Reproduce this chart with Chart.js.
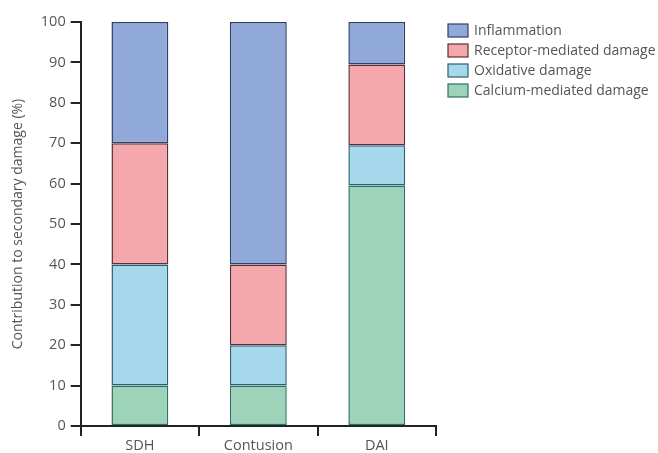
<!DOCTYPE html>
<html>
<head>
<meta charset="utf-8">
<script src="https://cdn.jsdelivr.net/npm/chart.js@4/dist/chart.umd.min.js"></script>
<style>
html,body{margin:0;padding:0;background:#fff;}
#wrap{width:658px;height:453px;position:relative;}
</style>
</head>
<body>
<div id="wrap"><canvas id="c"></canvas></div>
<script>
const categories = ["SDH", "Contusion", "DAI"];
const calcium = [10, 10, 59.5];
const oxidative = [30, 10, 10];
const receptor = [30, 20, 20];
const inflammation = [30, 60, 10.5];
const yTicks = [0,10,20,30,40,50,60,70,80,90,100];

const textColor = '#555555';
const fontFam = '"Open Sans", Lato, sans-serif';

const sideLegend = {
  id: 'sideLegend',
  afterDraw(chart) {
    const ctx = chart.ctx;
    const ds = chart.data.datasets.slice().reverse();
    const x0 = chart.chartArea.right + 12;
    const y0 = 30.5;
    const step = 20;
    ctx.save();
    ctx.font = '14px ' + fontFam;
    ctx.textBaseline = 'middle';
    ctx.textAlign = 'left';
    ds.forEach((d, i) => {
      const y = y0 + i * step;
      ctx.fillStyle = d.backgroundColor;
      ctx.fillRect(x0, y - 6.5, 20, 13);
      ctx.strokeStyle = d.borderColor;
      ctx.lineWidth = 1.2;
      ctx.strokeRect(x0, y - 6.5, 20, 13);
      ctx.fillStyle = textColor;
      ctx.fillText(d.label, x0 + 26, y + 0.5);
    });
    ctx.restore();
  }
};

new Chart(document.getElementById('c'), {
  type: 'bar',
  data: {
    labels: categories,
    datasets: [
      {label:'Calcium-mediated damage', data: calcium, backgroundColor:'#9dd4b9', borderColor:'#2f6f66', borderWidth:1.5, borderSkipped:false},
      {label:'Oxidative damage', data: oxidative, backgroundColor:'#a4d8ea', borderColor:'#2e5f70', borderWidth:1.5, borderSkipped:false},
      {label:'Receptor-mediated damage', data: receptor, backgroundColor:'#f4a8ab', borderColor:'#5a2e3a', borderWidth:1.5, borderSkipped:false},
      {label:'Inflammation', data: inflammation, backgroundColor:'#90a9d8', borderColor:'#2f3f66', borderWidth:1.5, borderSkipped:false}
    ]
  },
  plugins: [sideLegend],
  options: {
    responsive: true,
    maintainAspectRatio: false,
    animation: false,
    layout: {padding: {top: 22, right: 222, bottom: 0, left: 10}},
    datasets: {bar: {categoryPercentage: 1, barPercentage: 0.48}},
    plugins: {
      legend: {display: false},
      tooltip: {enabled: false}
    },
    scales: {
      x: {
        stacked: true,
        afterFit: (scale) => { scale.height = 27; },
        grid: {offset: true, drawOnChartArea: false, drawTicks: true, tickLength: 10, color: '#222', lineWidth: 2},
        border: {color: '#222', width: 2},
        ticks: {color: textColor, font: {family: fontFam, size: 14.5, lineHeight: 1}, padding: 3}
      },
      y: {
        stacked: true,
        min: 0, max: 100,
        afterBuildTicks: (axis) => { axis.ticks = yTicks.map(v => ({value: v})); },
        grid: {drawOnChartArea: false, drawTicks: true, tickLength: 10, color: '#222', lineWidth: 2},
        border: {color: '#222', width: 2},
        ticks: {color: textColor, font: {family: fontFam, size: 14.5}, padding: 5},
        title: {display: true, text: 'Contribution to secondary damage (%)', color: textColor, font: {family: fontFam, size: 14}, padding: {top: 0, bottom: 9}}
      }
    }
  }
});
</script>
</body>
</html>
